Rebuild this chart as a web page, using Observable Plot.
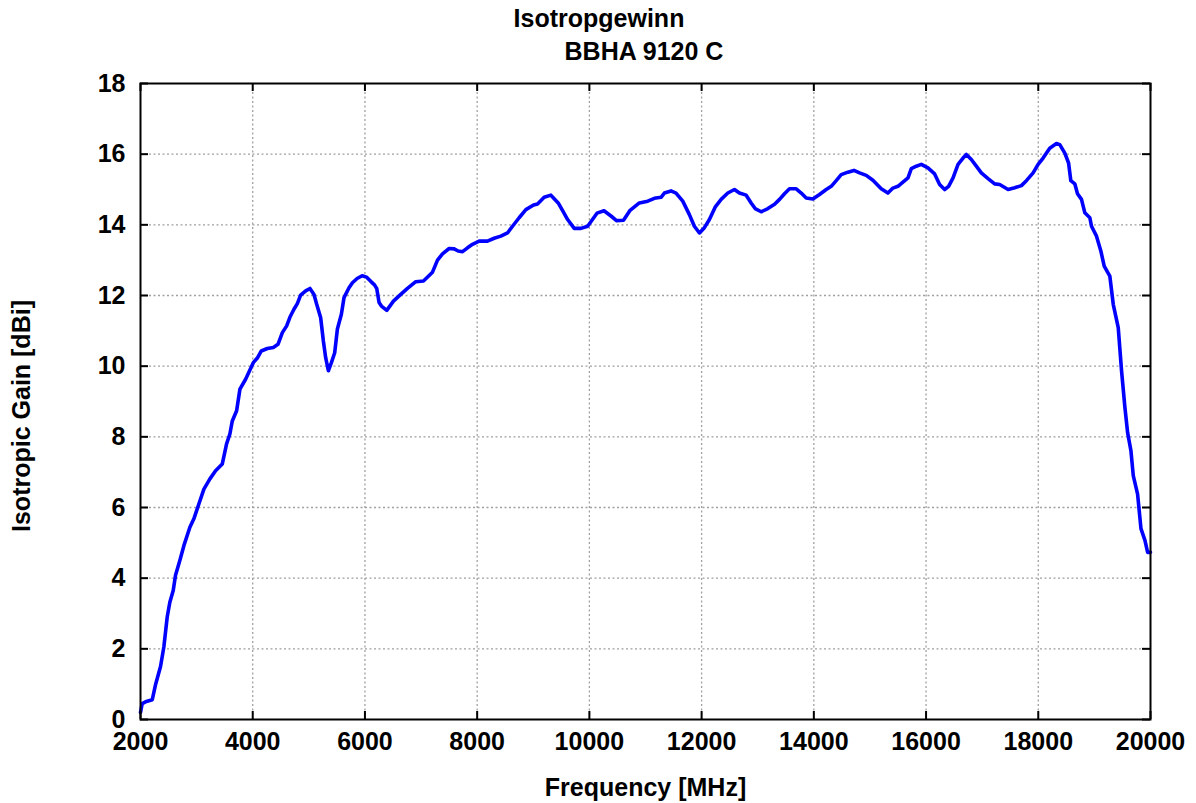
<!DOCTYPE html>
<html>
<head>
<meta charset="utf-8">
<script src="https://cdn.jsdelivr.net/npm/d3@7"></script>
<script src="https://cdn.jsdelivr.net/npm/@observablehq/plot@0.6"></script>
<style>
  body { margin: 0; background: #fff; font-family: "Liberation Sans", Arial, sans-serif; }
  #wrap { position: relative; width: 1196px; height: 803px; overflow: hidden; }
  #head { position: relative; height: 66px; }
  .t { position: absolute; font-weight: bold; font-size: 25px; line-height: 1; white-space: nowrap; transform: translateX(-50%); color: #000; }
  #ylab { position: absolute; left: 21px; top: 416px; font-weight: bold; font-size: 25px; line-height: 1; white-space: nowrap; transform: translate(-50%, -50%) rotate(-90deg); color: #000; }
</style>
</head>
<body>
<div id="wrap">
  <div id="head">
    <div class="t" style="left:599px; top:6px;">Isotropgewinn</div>
    <div class="t" style="left:644px; top:39px;">BBHA 9120 C</div>
  </div>
  <div id="chart"></div>
  <div id="ylab">Isotropic Gain [dBi]</div>
</div>
<script>
const freqMHz = [2000,2030,2090,2210,2270,2357,2416,2476,2523,2583,2624,2701,2773,2880,2951,3040,3130,3237,3338,3457,3534,3593,3636,3713,3772,3873,4010,4082,4153,4260,4367,4450,4528,4605,4664,4735,4795,4854,4944,5020,5092,5140,5211,5259,5300,5348,5402,5461,5509,5580,5627,5716,5777,5860,5950,6030,6103,6170,6210,6252,6294,6389,6508,6638,6758,6906,7043,7204,7293,7382,7500,7590,7661,7739,7828,7917,8035,8184,8303,8422,8541,8630,8748,8868,9005,9076,9194,9314,9444,9523,9612,9730,9850,9969,10135,10260,10385,10483,10608,10720,10890,11040,11158,11277,11336,11455,11544,11664,11782,11871,11961,12050,12139,12241,12348,12467,12585,12674,12794,12883,12954,13062,13181,13300,13389,13477,13566,13686,13775,13864,13983,14101,14221,14310,14399,14488,14607,14715,14815,14934,15053,15201,15320,15410,15499,15588,15678,15737,15826,15915,16034,16153,16242,16331,16402,16481,16570,16659,16718,16807,16896,16985,17105,17223,17312,17462,17580,17699,17788,17908,17997,18086,18204,18324,18383,18473,18540,18580,18651,18699,18770,18830,18919,18949,19038,19115,19175,19275,19336,19425,19484,19544,19592,19651,19693,19770,19830,19901,19949,20000];
const gainDBi = [0.2,0.45,0.5,0.56,1.0,1.5,2.05,2.9,3.32,3.65,4.08,4.5,4.92,5.44,5.68,6.1,6.52,6.81,7.04,7.23,7.8,8.08,8.45,8.74,9.35,9.63,10.1,10.23,10.43,10.5,10.53,10.62,10.95,11.14,11.39,11.61,11.77,12.01,12.13,12.2,12.03,11.75,11.37,10.71,10.24,9.87,10.1,10.38,11.05,11.47,11.94,12.22,12.36,12.48,12.56,12.52,12.4,12.3,12.2,11.8,11.7,11.58,11.84,12.03,12.2,12.39,12.41,12.66,13.0,13.18,13.33,13.32,13.26,13.24,13.35,13.45,13.54,13.54,13.62,13.68,13.77,13.96,14.2,14.43,14.56,14.59,14.78,14.84,14.62,14.4,14.15,13.9,13.9,13.96,14.33,14.4,14.25,14.12,14.13,14.4,14.62,14.67,14.75,14.78,14.9,14.96,14.9,14.67,14.29,13.96,13.77,13.92,14.15,14.5,14.72,14.9,15.0,14.9,14.84,14.62,14.46,14.37,14.46,14.58,14.72,14.88,15.02,15.02,14.9,14.76,14.73,14.86,15.0,15.09,15.25,15.42,15.49,15.54,15.47,15.4,15.26,15.02,14.9,15.04,15.09,15.21,15.33,15.59,15.66,15.71,15.61,15.44,15.14,15.0,15.09,15.33,15.71,15.89,15.99,15.85,15.66,15.47,15.31,15.16,15.14,15.0,15.05,15.11,15.25,15.47,15.71,15.89,16.17,16.3,16.27,16.03,15.75,15.25,15.16,14.88,14.72,14.34,14.2,13.96,13.68,13.26,12.83,12.55,11.75,11.09,9.87,8.83,8.12,7.61,6.9,6.38,5.4,5.07,4.73,4.73];
const xTicks = [2000,4000,6000,8000,10000,12000,14000,16000,18000,20000];
const yTicks = [0,2,4,6,8,10,12,14,16,18];
const xLabel = "Frequency [MHz]";

const data = freqMHz.map((f, i) => ({f, g: gainDBi[i]}));

const W = 1196, H = 737;
const mT = 17, mB = 84, mL = 140, mR = 46;
const innerW = W - mL - mR, innerH = H - mT - mB;
const tickLen = 8;
const font = {fontSize: 25, fontWeight: "bold", fontFamily: "Liberation Sans, Arial, sans-serif"};

const chart = Plot.plot({
  width: W, height: H,
  marginTop: mT, marginBottom: mB, marginLeft: mL, marginRight: mR,
  style: {fontFamily: "Liberation Sans, Arial, sans-serif", fontSize: "25px", fontWeight: "bold", color: "#000", background: "#fff"},
  x: {domain: [2000, 20000]},
  y: {domain: [0, 18]},
  marks: [
    Plot.gridX(xTicks.slice(1, -1), {stroke: "#a0a0a0", strokeOpacity: 1, strokeWidth: 1.3, strokeDasharray: "2,2.5"}),
    Plot.gridY(yTicks.slice(1, -1), {stroke: "#a0a0a0", strokeOpacity: 1, strokeWidth: 1.3, strokeDasharray: "2,2.5"}),
    Plot.line(data, {x: "f", y: "g", stroke: "#0000ff", strokeWidth: 3.6, strokeLinejoin: "round"}),
    Plot.ruleX(xTicks, {insetTop: innerH - tickLen, stroke: "#000", strokeWidth: 2}),
    Plot.ruleX(xTicks, {insetBottom: innerH - tickLen, stroke: "#000", strokeWidth: 2}),
    Plot.ruleY(yTicks, {insetRight: innerW - tickLen, stroke: "#000", strokeWidth: 2}),
    Plot.ruleY(yTicks, {insetLeft: innerW - tickLen, stroke: "#000", strokeWidth: 2}),
    Plot.frame({stroke: "#000", strokeWidth: 2}),
    Plot.axisX({ticks: xTicks, tickSize: 0, tickPadding: 13, tickFormat: d => String(d), ...font,
      label: xLabel, labelAnchor: "center", labelOffset: 76, labelArrow: "none"}),
    Plot.axisY({ticks: yTicks, tickSize: 0, tickPadding: 15, tickFormat: d => String(d), ...font, label: null})
  ]
});
document.getElementById("chart").appendChild(chart);
</script>
</body>
</html>
